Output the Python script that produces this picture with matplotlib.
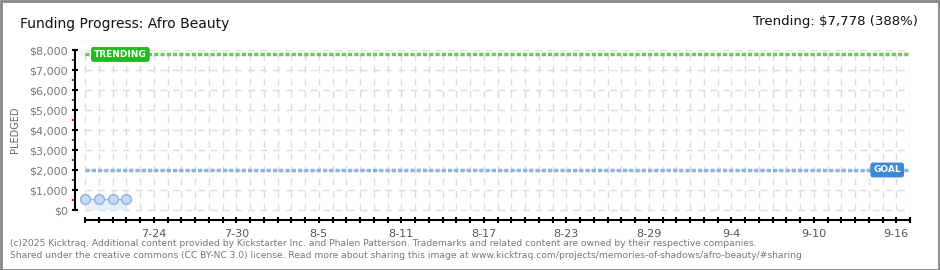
import datetime as dt

import matplotlib.pyplot as plt
from matplotlib.patches import Rectangle

# ---- data ----
start_date = dt.date(2025, 7, 19)
end_date = dt.date(2025, 9, 17)
pledge_dates = ["2025-07-19", "2025-07-20", "2025-07-21", "2025-07-22"]
pledged = [550, 550, 550, 550]
goal = 2000
trending = 7778
trending_pct = 388
y_ticks = [0, 1000, 2000, 3000, 4000, 5000, 6000, 7000, 8000]
label_dates = ["7-24", "7-30", "8-5", "8-11", "8-17", "8-23", "8-29", "9-4", "9-10", "9-16"]


def day_index(s):
    d = dt.date.fromisoformat(s)
    return (d - start_date).days


def main():
    n_days = (end_date - start_date).days
    xs = [day_index(s) for s in pledge_dates]

    fig = plt.figure(figsize=(9.4, 2.7), dpi=100)
    W, H = 940, 270

    # axes box in pixels: x 75..910, y 50..220
    ax = fig.add_axes([75 / W, 1 - 220 / H, (910 - 75) / W, (220 - 50) / H])
    px_per_day = (910 - 85) / n_days
    ax.set_xlim(-10 / px_per_day, n_days)
    ax.set_ylim(-500, 8000)

    # background grid
    grid_kw = dict(color="#dddddd", linewidth=1, linestyle=(0, (5, 4)), zorder=0)
    ax.vlines(range(n_days + 1), 0, 8000, **grid_kw)
    ax.hlines(y_ticks, 0, n_days, **grid_kw)

    # goal and trending lines
    ax.hlines(goal, 0, n_days, color="#8fb2db", linewidth=2.5,
              linestyle=(0, (1.2, 0.6)), zorder=2)
    ax.hlines(trending, 0, n_days, color="#66cc55", linewidth=2.5,
              linestyle=(0, (1.2, 0.6)), zorder=2)

    # pledged series
    ax.fill_between(xs, 0, pledged, color="#e6f0fb", zorder=1, linewidth=0)
    ax.plot(xs, pledged, color="#9dbbe0", linewidth=1, marker="o",
            markersize=7, markerfacecolor="#c5dcf5", markeredgecolor="#8fb0d9",
            zorder=3)

    # spines
    for s in ("top", "right"):
        ax.spines[s].set_visible(False)
    ax.spines["left"].set_bounds(0, 8000)
    ax.spines["bottom"].set_bounds(0, n_days)
    ax.spines["left"].set_linewidth(1.5)
    ax.spines["bottom"].set_linewidth(1.5)

    # y ticks
    ax.set_yticks(y_ticks)
    ax.set_yticklabels(["${:,}".format(v) for v in y_ticks])
    ax.set_yticks([v + 500 for v in y_ticks[:-1]], minor=True)
    ax.tick_params(axis="y", which="major", direction="inout", length=4,
                   width=1.5, labelsize=8, labelcolor="#777777", pad=3)
    ax.tick_params(axis="y", which="minor", direction="out", length=2.2,
                   width=1.5, color="#ee2222")

    # x ticks
    major_days = []
    for lab in label_dates:
        m, d = lab.split("-")
        major_days.append((dt.date(2025, int(m), int(d)) - start_date).days)
    ax.set_xticks(major_days)
    ax.set_xticklabels(label_dates)
    ax.set_xticks(range(n_days + 1), minor=True)
    ax.tick_params(axis="x", which="both", direction="inout", length=5,
                   width=1.5, labelsize=8, labelcolor="#555555", pad=4)

    ax.set_ylabel("PLEDGED", fontsize=7, color="#666666")
    ax.yaxis.set_label_coords(-55 / 835, 0.53)

    # flag labels
    ax.text(9 / px_per_day, trending, "TRENDING", fontsize=6.5,
            color="white", fontweight="bold", va="center", ha="left",
            bbox=dict(boxstyle="round,pad=0.25,rounding_size=0.2",
                      facecolor="#22bb22", edgecolor="#22bb22"), zorder=4)
    ax.text(n_days - 9 / px_per_day, goal, "GOAL", fontsize=6.5,
            color="white", fontweight="bold", va="center", ha="right",
            bbox=dict(boxstyle="round,pad=0.25,rounding_size=0.2",
                      facecolor="#3d88d8", edgecolor="#3d88d8"), zorder=4)

    # titles
    fig.text(20 / W, 1 - 24 / H, "Funding Progress: Afro Beauty",
             fontsize=10, color="#111111", va="center", ha="left")
    fig.text(918 / W, 1 - 22 / H,
             "Trending: ${:,} ({}%)".format(trending, trending_pct),
             fontsize=9.5, color="#111111", va="center", ha="right")

    # footer
    foot = "#777777"
    fig.text(10 / W, 1 - 243 / H,
             "(c)2025 Kicktraq. Additional content provided by Kickstarter Inc. and "
             "Phalen Patterson. Trademarks and related content are owned by their "
             "respective companies.", fontsize=6.6, color=foot, va="center")
    fig.text(10 / W, 1 - 256 / H,
             "Shared under the creative commons (CC BY-NC 3.0) license. Read more "
             "about sharing this image at www.kicktraq.com/projects/memories-of-shadows/"
             "afro-beauty/#sharing", fontsize=6.6, color=foot, va="center")

    # outer border
    fig.patches.append(Rectangle((0.5 / W, 0.5 / H), 1 - 1.5 / W, 1 - 1.5 / H,
                                 transform=fig.transFigure, fill=False,
                                 edgecolor="#888888", linewidth=2))

    fig.savefig("out.png", dpi=100)


if __name__ == "__main__":
    main()
